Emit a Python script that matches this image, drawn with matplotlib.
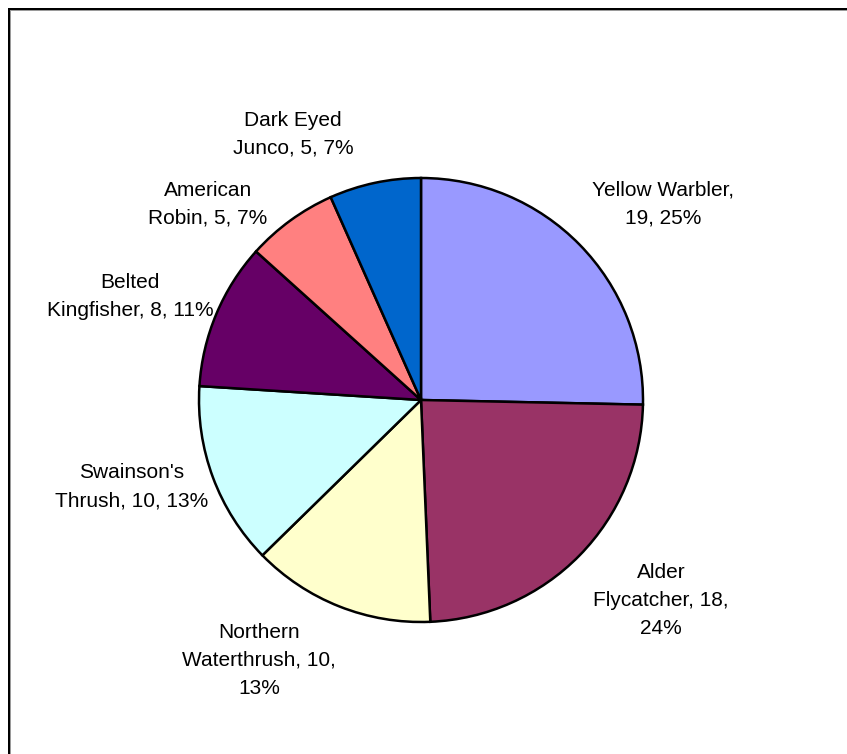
import matplotlib
matplotlib.use('Agg')
import matplotlib.pyplot as plt
from matplotlib.lines import Line2D

species = ['Yellow Warbler', 'Alder Flycatcher', 'Northern Waterthrush',
           "Swainson's Thrush", 'Belted Kingfisher', 'American Robin',
           'Dark Eyed Junco']
counts = [19, 18, 10, 10, 8, 5, 5]

# label text split the way it wraps on the chart
label_lines = [
    ['Yellow Warbler,', '{c}, {p}%'],
    ['Alder', 'Flycatcher, {c},', '{p}%'],
    ['Northern', 'Waterthrush, {c},', '{p}%'],
    ["Swainson's", 'Thrush, {c}, {p}%'],
    ['Belted', 'Kingfisher, {c}, {p}%'],
    ['American', 'Robin, {c}, {p}%'],
    ['Dark Eyed', 'Junco, {c}, {p}%'],
]

colors = ['#9999FF', '#993366', '#FFFFCC', '#CCFFFF', '#660066',
          '#FF8080', '#0066CC']

W, H = 847, 754
# label centres in pixel coords (from top-left)
label_pos = [(663, 204), (661, 601), (259, 660), (132, 487),
             (130, 296), (208, 204), (293, 134)]

plt.rcParams['font.family'] = ['Liberation Sans', 'DejaVu Sans']

fig = plt.figure(figsize=(W / 100, H / 100), dpi=100)
ax = fig.add_axes([0, 0, 1, 1])
ax.axis('off')

cx, cy, r = 421, H - 400, 222
ax.pie(counts, colors=colors, startangle=90, counterclock=False,
       center=(cx, cy), radius=r,
       wedgeprops=dict(edgecolor='black', linewidth=1.8))
ax.set_xlim(0, W)
ax.set_ylim(0, H)
ax.set_aspect('equal')

total = sum(counts)
for lines, c, (lx, ly) in zip(label_lines, counts, label_pos):
    p = round(100 * c / total)
    txt = '\n'.join(s.format(c=c, p=p) for s in lines)
    ax.text(lx, H - ly, txt, ha='center', va='center', fontsize=15,
            linespacing=1.6, color='black')

# chart frame (only top and left edges fall inside the image)
px = 0.72
frame = dict(solid_capstyle='butt', snap=False)
ax.add_line(Line2D([8, W], [H - 9, H - 9], color='black', lw=2 * px, **frame))
ax.add_line(Line2D([9, 9], [0, H - 8], color='black', lw=2 * px, **frame))
ax.add_line(Line2D([10, W], [H - 10.5, H - 10.5], color='#9a9a9a', lw=px,
                   **frame))
ax.add_line(Line2D([10.5, 10.5], [0, H - 10], color='#9a9a9a', lw=px,
                   **frame))

fig.savefig('out.png', dpi=100)
